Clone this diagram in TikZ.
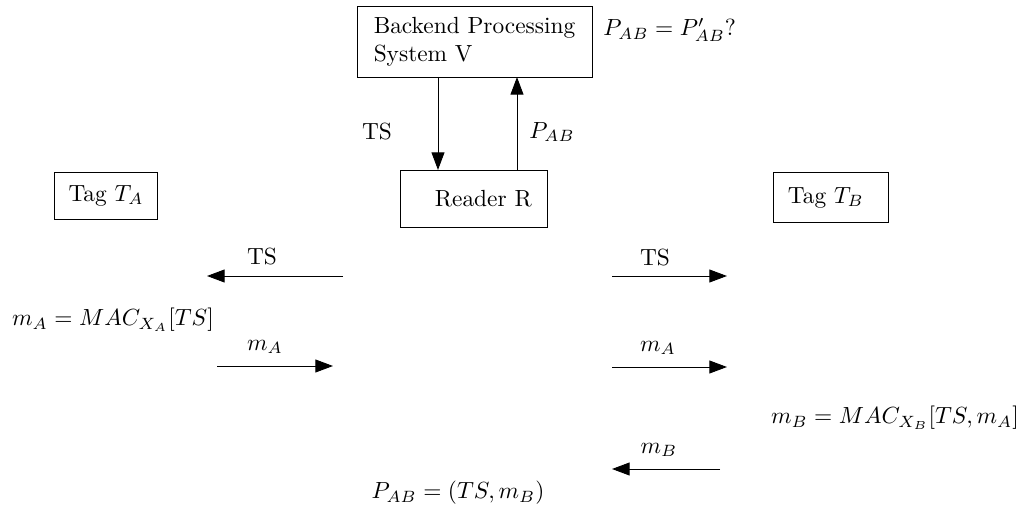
\documentclass[tikz,border=0pt]{standalone}
\usepackage{amsmath}
\usepackage{tikz}
\usetikzlibrary{arrows.meta}

\begin{document}
\begin{tikzpicture}[x=0.428pt,y=-0.428pt]
\tikzstyle{every node}+=[inner sep=0pt]
\tikzstyle{box}=[draw=black,align=left]
\tikzstyle{msg}=[-{Triangle[length=7.5pt,width=5.5pt]},black]
\useasboundingbox (0,0) rectangle (1027,515);
% parties
\node [box,minimum width=100.6pt,minimum height=30pt] (V) at (474.5,42) {Backend Processing\\System V};
\node [box,minimum width=63.3pt,minimum height=24.8pt] (R) at (474,199) {\hspace{8pt}Reader R};
\node [box,minimum width=43.7pt,minimum height=20.1pt] (TA) at (106,195.5) {Tag $T_A$};
\node [box,minimum width=49.2pt,minimum height=21pt] (TB) at (830.5,197.5) {Tag $T_B$\hspace{4pt}};
% reader <-> backend
\coordinate (vdown) at (438,77);
\coordinate (rdown) at (438,170);
\coordinate (rup) at (517,170);
\coordinate (vup) at (517,77);
\draw [msg] (vdown) -- (rdown);
\draw [msg] (rup) -- (vup);
\node (lts) at (377,132) {TS};
\node [anchor=west] (lpab) at (529,132) {$P_{AB}$};
\node [anchor=west] (check) at (603,30) {$P_{AB} = P'_{AB}?$};
% reader <-> tag A
\coordinate (a1s) at (343,276);
\coordinate (a1e) at (207,276);
\draw [msg] (a1s) -- (a1e);
\node (la1) at (262,257) {TS};
\node (macA) at (113,320) {$m_A = MAC_{X_A}[TS]$};
\coordinate (a2s) at (217,366);
\coordinate (a2e) at (333,366);
\draw [msg] (a2s) -- (a2e);
\node (la2) at (265,347) {$m_A$};
% reader <-> tag B
\coordinate (b1s) at (612,276);
\coordinate (b1e) at (727,276);
\draw [msg] (b1s) -- (b1e);
\node (lb1) at (655,258) {TS};
\coordinate (b2s) at (612,367);
\coordinate (b2e) at (727,367);
\draw [msg] (b2s) -- (b2e);
\node (lb2) at (658,348) {$m_A$};
\node (macB) at (895,418) {$m_B = MAC_{X_B}[TS, m_A]$};
\coordinate (b3s) at (720,469);
\coordinate (b3e) at (612,469);
\draw [msg] (b3s) -- (b3e);
\node (lb3) at (659,450) {$m_B$};
\node (pab) at (458,493) {$P_{AB} = (TS, m_B)$};
\end{tikzpicture}
\end{document}
